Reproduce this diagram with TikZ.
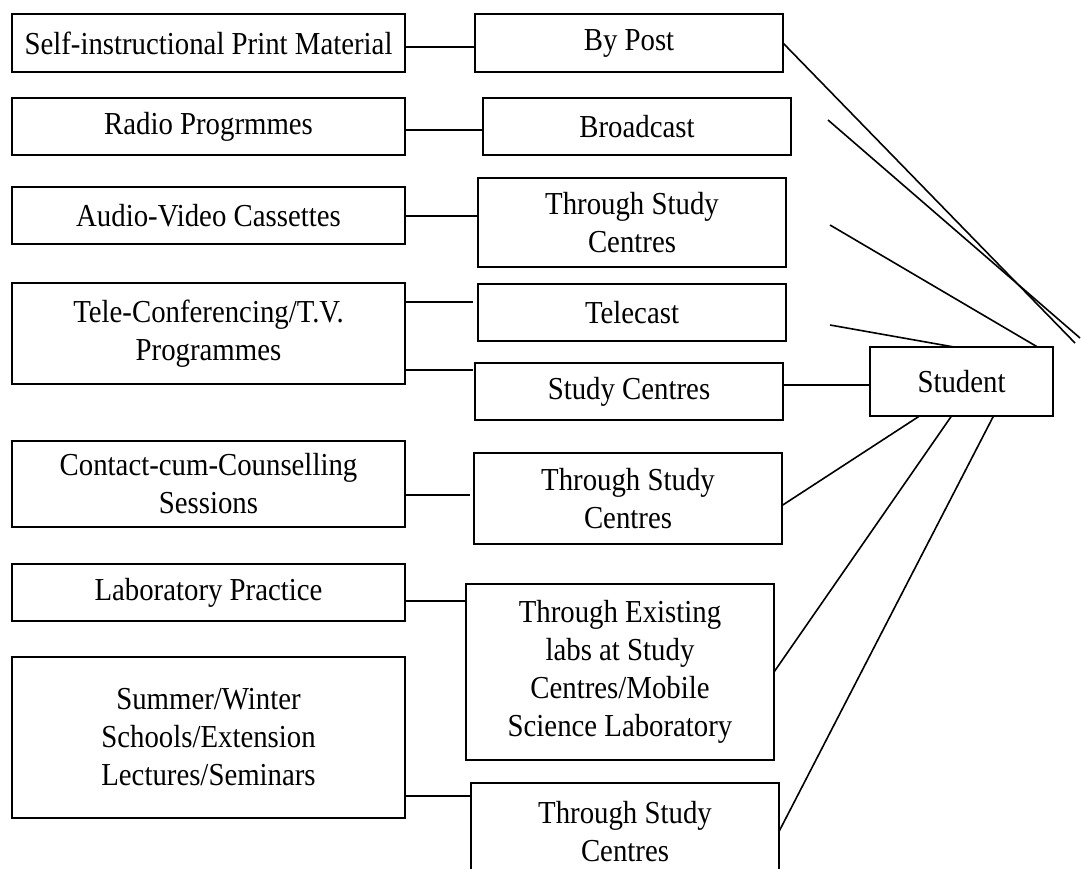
\documentclass[tikz,border=0pt]{standalone}
\usepackage{fontspec}
\setmainfont{Liberation Serif}[FakeStretch=0.9]
\usetikzlibrary{positioning}

\begin{document}
\begin{tikzpicture}[x=1pt,y=-1pt,
		box/.style={draw,line width=2pt,align=center,inner sep=0pt,outer sep=0pt,
			font=\fontsize{32}{38}\selectfont},
		lbox/.style={box,minimum width=393pt},
		rbox/.style={box,minimum width=308pt},
		wire/.style={line width=2pt},
		slant/.style={line width=1.6pt}]
		\useasboundingbox (0,0) rectangle (1081,868);
		\clip (0,0) rectangle (1081,868);
		\node (spm)   [lbox,minimum height=58pt] at (208.5,43) {Self-instructional Print Material};
		\node (radio) [lbox,minimum height=57pt,below=26pt of spm]   {Radio Progrmmes};
		\node (avc)   [lbox,minimum height=57pt,below=32pt of radio] {Audio-Video Cassettes};
		\node (tele)  [lbox,minimum height=101pt,below=39pt of avc]  {Tele-Conferencing/T.V.\\Programmes};
		\node (ccs)   [lbox,minimum height=86pt,below=57pt of tele]  {Contact-cum-Counselling\\Sessions};
		\node (lab)   [lbox,minimum height=57pt,below=37pt of ccs]   {Laboratory Practice};
		\node (sws)   [lbox,minimum height=161pt,below=36pt of lab]  {Summer/Winter\\Schools/Extension\\Lectures/Seminars};
		\node (post)  [rbox,minimum height=58pt,right=70pt of spm]                {By Post};
		\node (bcast) [rbox,minimum height=57pt,right=78pt of radio]              {Broadcast};
		\node (sc1)   [rbox,minimum height=89pt,right=73pt of avc,yshift=-7pt]    {Through Study\\Centres};
		\node (tv)    [rbox,minimum height=57pt,right=73pt of tele,yshift=21pt]   {Telecast};
		\node (sc)    [rbox,minimum height=57pt,right=70pt of tele,yshift=-58pt]  {Study Centres};
		\node (sc2)   [rbox,minimum height=91pt,right=69pt of ccs,yshift=-14.5pt] {Through Study\\Centres};
		\node (labs)  [rbox,minimum height=176pt,right=61pt of lab,yshift=-79.5pt] {Through Existing\\labs at Study\\Centres/Mobile\\Science Laboratory};
		\node (sc3)   [rbox,minimum height=97pt,right=66pt of sws,yshift=-94pt]   {Through Study\\Centres};
		\node (st)    [box,minimum width=183pt,minimum height=69pt,right=87pt of sc,yshift=10pt] {Student};
		\draw[wire] ([yshift=-4pt]spm.east) -- ([yshift=-4pt]post.west);
		\draw[wire] ([yshift=-3.5pt]radio.east) -- ([yshift=-3.5pt]bcast.west);
		\draw[wire] (avc.east) -- (avc.east -| sc1.west);
		\draw[wire,shorten >=5pt] ([yshift=31.5pt]tele.east) -- ([yshift=31.5pt]tele.east -| tv.west);
		\draw[wire,shorten >=2pt] ([yshift=-36.5pt]tele.east) -- ([yshift=-36.5pt]tele.east -| sc.west);
		\draw[wire,shorten >=4pt] ([yshift=-11pt]ccs.east) -- ([yshift=-11pt]ccs.east -| sc2.west);
		\draw[wire] ([yshift=-8.5pt]lab.east) -- ([yshift=-8.5pt]lab.east -| labs.west);
		\draw[wire] ([yshift=-58.5pt]sws.east) -- ([yshift=-58.5pt]sws.east -| sc3.west);
		\draw[wire] ([yshift=6.5pt]sc.east) -- ([yshift=6.5pt]sc.east -| st.west);
		\coordinate (e1) at (1075,343);
		\coordinate (e2) at (1080,338);
		\coordinate (b2) at (828,120);
		\coordinate (b3) at (830,225);
		\coordinate (b4) at (830,325);
		\draw[slant] (post.east) -- (e1);
		\draw[slant] (b2) -- (e2);
		\draw[slant] (b3) -- ([xshift=76pt]st.north);
		\draw[slant] (b4) -- ([xshift=-7.5pt]st.north);
		\draw[slant] ([yshift=-7pt]sc2.east) -- ([xshift=-42pt]st.south);
		\draw[slant] (labs.east) -- ([xshift=-10pt]st.south);
		\draw[slant] (sc3.east) -- ([xshift=32pt]st.south);
\end{tikzpicture}
\end{document}
